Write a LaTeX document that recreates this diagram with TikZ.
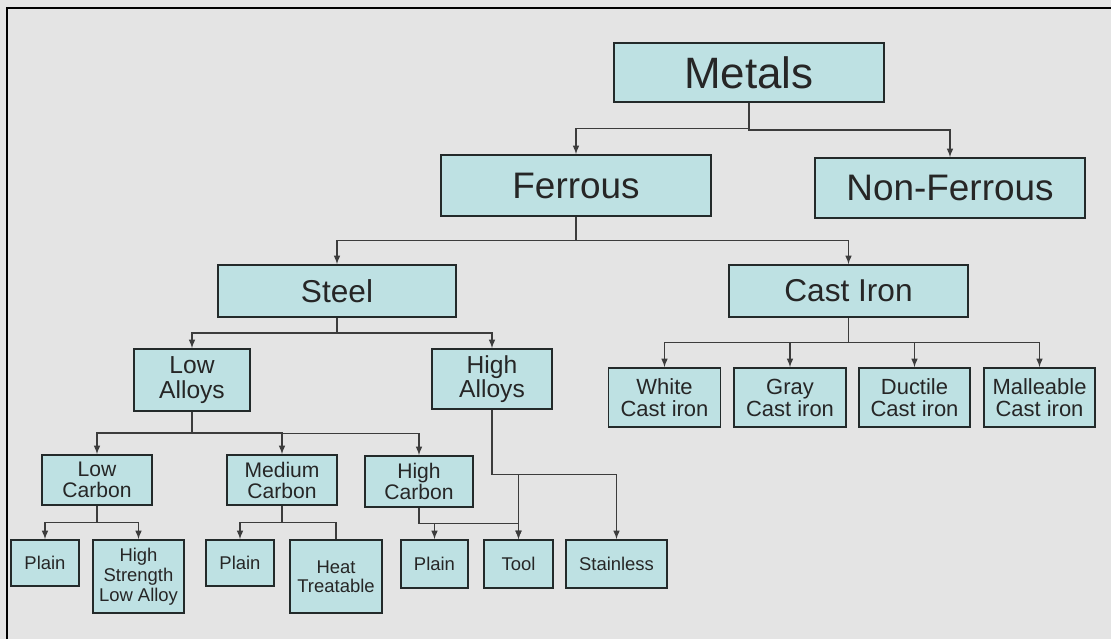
\documentclass[tikz,border=0pt]{standalone}
\usepackage{fontspec}
\setmainfont{Liberation Sans}
\usetikzlibrary{calc,arrows}
\definecolor{paper}{RGB}{228,228,228}
\definecolor{boxfill}{RGB}{190,225,227}
\definecolor{boxline}{RGB}{35,42,42}
\definecolor{wirecol}{RGB}{60,60,60}
\newcommand{\fsz}[2]{\fontsize{#1}{#2}\selectfont}
\tikzset{>=latex}
\tikzset{box/.style={draw=boxline, fill=boxfill, line width=0.9pt,
    inner sep=0pt, align=center, text=black!85}}
\tikzset{wire/.style={draw=wirecol, line width=0.7pt}}
% vertical, across at half height, then down into the child
\tikzset{elbow/.style={to path={|- ($(\tikztostart)!.5!(\tikztotarget)$) -| (\tikztotarget)}}}

\begin{document}
\begin{tikzpicture}[x=0.02cm,y=-0.02cm]
  \fill[paper] (0,0) rectangle (1111,639);
  \useasboundingbox (0,0) rectangle (1111,639);
  \draw[line width=1.6pt] (7,639) -- (7,8) -- (1111,8);

  % top levels
  \node[box, minimum width=5.4cm, minimum height=1.18cm, font={\fsz{25}{27}}] (metals) at (749,72.5) {Metals};
  \node[box, minimum width=5.4cm, minimum height=1.22cm, font={\fsz{21}{23}}] (ferrous) at (576,185.5) {Ferrous};
  \node[box, minimum width=5.4cm, minimum height=1.2cm, font={\fsz{21}{23}}] (nonferrous) at (950,188) {Non-Ferrous};
  \node[box, minimum width=4.76cm, minimum height=1.04cm, font={\fsz{18}{20}}] (steel) at (337,291) {Steel};
  \node[box, minimum width=4.78cm, minimum height=1.04cm, font={\fsz{18}{20}}] (castiron) at (848.5,291) {Cast Iron};

  % alloys
  \node[box, minimum width=2.32cm, minimum height=1.24cm, font={\fsz{14}{14}}] (lowalloys) at (192,380) {Low\\Alloys};
  \node[box, minimum width=2.4cm, minimum height=1.2cm, font={\fsz{14}{14}}] (highalloys) at (492,379) {High\\Alloys};

  % cast irons
  \node[box, minimum width=2.24cm, minimum height=1.18cm, font={\fsz{12.5}{12.5}}] (white) at (664.5,397.5) {White\\Cast iron};
  \node[box, minimum width=2.24cm, minimum height=1.18cm, font={\fsz{12.5}{12.5}}] (gray) at (790,397.5) {Gray\\Cast iron};
  \node[box, minimum width=2.22cm, minimum height=1.18cm, font={\fsz{12.5}{12.5}}] (ductile) at (914.5,397.5) {Ductile\\Cast iron};
  \node[box, minimum width=2.22cm, minimum height=1.18cm, font={\fsz{12.5}{12.5}}] (malleable) at (1039.5,397.5) {Malleable\\Cast iron};

  % carbon content
  \node[box, minimum width=2.2cm, minimum height=1cm, font={\fsz{12}{12}}] (lowcarbon) at (97,480) {Low\\Carbon};
  \node[box, minimum width=2.2cm, minimum height=1cm, font={\fsz{12}{12}}] (medcarbon) at (282,480) {Medium\\Carbon};
  \node[box, minimum width=2.16cm, minimum height=1.02cm, font={\fsz{12}{12}}] (highcarbon) at (419,481.5) {High\\Carbon};

  % bottom row
  \node[box, minimum width=1.36cm, minimum height=0.92cm, font={\fsz{10.5}{11}}] (plainA) at (45,563) {Plain};
  \node[box, minimum width=1.82cm, minimum height=1.46cm, font={\fsz{10.5}{11.3}}] (hsla) at (138.5,576.5) {High\\Strength\\Low Alloy};
  \node[box, minimum width=1.36cm, minimum height=0.92cm, font={\fsz{10.5}{11}}] (plainB) at (240,563) {Plain};
  \node[box, minimum width=1.84cm, minimum height=1.46cm, font={\fsz{10.5}{11}}] (heat) at (336,576.5) {Heat\\Treatable};
  \node[box, minimum width=1.34cm, minimum height=0.96cm, font={\fsz{10.5}{11}}] (plainC) at (434.5,564) {Plain};
  \node[box, minimum width=1.38cm, minimum height=0.96cm, font={\fsz{10.5}{11}}] (tool) at (518.5,564) {Tool};
  \node[box, minimum width=2.02cm, minimum height=0.96cm, font={\fsz{10.5}{11}}] (stainless) at (616.5,564) {Stainless};

  % connectors
  \draw[wire,->] (metals.south) to[elbow] (ferrous.north);
  \draw[wire,->] (metals.south) to[elbow] (nonferrous.north);
  \draw[wire,->] (ferrous.south) to[elbow] (steel.north);
  \draw[wire,->] (ferrous.south) to[elbow] (castiron.north);
  \draw[wire,->] (steel.south) to[elbow] (lowalloys.north);
  \draw[wire,->] (steel.south) to[elbow] (highalloys.north);
  \draw[wire,->] (castiron.south) to[elbow] (white.north);
  \draw[wire,->] (castiron.south) to[elbow] (gray.north);
  \draw[wire,->] (castiron.south) to[elbow] (ductile.north);
  \draw[wire,->] (castiron.south) to[elbow] (malleable.north);
  \draw[wire,->] (lowalloys.south) to[elbow] (lowcarbon.north);
  \draw[wire,->] (lowalloys.south) to[elbow] (medcarbon.north);
  \draw[wire,->] (lowalloys.south) to[elbow] (highcarbon.north);
  \draw[wire,->] (lowcarbon.south) to[elbow] (plainA.north);
  \draw[wire,->] (lowcarbon.south) to[elbow] (hsla.north);
  \draw[wire,->] (medcarbon.south) to[elbow] (plainB.north);
  \draw[wire] (medcarbon.south) to[elbow] (heat.north);
  \draw[wire,->] (highcarbon.south) to[elbow] (plainC.north);
  \draw[wire,->] (highcarbon.south) to[elbow] (tool.north);
  \draw[wire,->] (highalloys.south) to[elbow] (tool.north);
  \draw[wire,->] (highalloys.south) to[elbow] (stainless.north);
\end{tikzpicture}
\end{document}
